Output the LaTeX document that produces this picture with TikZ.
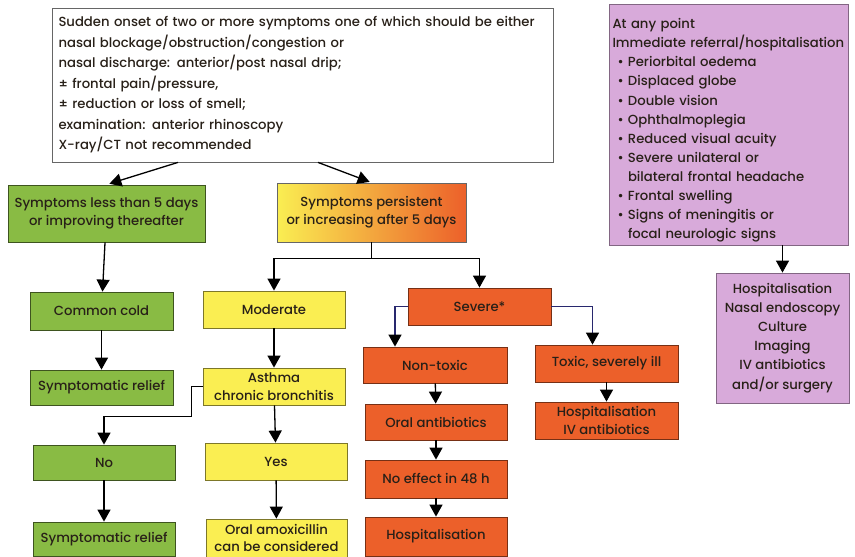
\documentclass[tikz,border=0pt]{standalone}
\usepackage{fontspec}
\setmainfont{Poppins}[UprightFont={* Medium}]
\usetikzlibrary{arrows.meta}

\definecolor{grn}{RGB}{137,187,68}
\definecolor{ylw}{RGB}{250,238,82}
\definecolor{org}{RGB}{236,96,42}
\definecolor{pur}{RGB}{216,170,218}
\definecolor{navy}{RGB}{40,40,110}
\definecolor{ink}{RGB}{40,32,24}

\newcommand{\bul}{\hspace*{5pt}\textbullet\ }
\newcommand{\cont}{\hspace*{5pt}\phantom{\textbullet\ }}

\begin{document}
\begin{tikzpicture}[x=1pt, y=-1pt, >={Triangle[width=13pt,length=12pt]}]
    \tikzstyle{box} = [rectangle, draw=black!60, line width=0.8pt, text=ink, align=center, inner sep=1pt, font=\fontsize{13.2}{17.8}\selectfont]
    \tikzstyle{grnbox} = [box, fill=grn, draw=grn!45!black]
    \tikzstyle{ylwbox} = [box, fill=ylw, draw=ylw!50!black]
    \tikzstyle{orgbox} = [box, fill=org, draw=org!50!black]
    \tikzstyle{purbox} = [box, fill=pur, draw=pur!60!black, font=\fontsize{13.2}{19.1}\selectfont]
    \tikzstyle{link} = [->, line width=1.3pt, black]

    \useasboundingbox (0,0) rectangle (855,557);

    % top
    \node[box, fill=white, minimum width=501pt, minimum height=154pt, text width=488pt, align=left, font=\fontsize{13.2}{20.5}\selectfont] (onset) at (302.5,85)
        {Sudden onset of two or more symptoms one of which should be either\\
         nasal blockage/obstruction/congestion or\\
         nasal discharge: anterior/post nasal drip;\\
         ± frontal pain/pressure,\\
         ± reduction or loss of smell;\\
         examination: anterior rhinoscopy\\
         X-ray/CT not recommended};

    % right column
    \node[purbox, minimum width=239pt, minimum height=241pt, text width=232pt, align=left] (anypoint) at (728.5,124.5)
        {\rule{0pt}{22pt}At any point\\
         Immediate referral/hospitalisation\\
         \bul Periorbital oedema\\
         \bul Displaced globe\\
         \bul Double vision\\
         \bul Ophthalmoplegia\\
         \bul Reduced visual acuity\\
         \bul Severe unilateral or\\
         \cont bilateral frontal headache\\
         \bul Frontal swelling\\
         \bul Signs of meningitis or\\
         \cont focal neurologic signs};
    \node[purbox, minimum width=133pt, minimum height=130pt] (hospall) at (782.5,338)
        {Hospitalisation\\ Nasal endoscopy\\ Culture\\ Imaging\\ IV antibiotics\\ and/or surgery};

    % second row
    \node[grnbox, minimum width=197pt, minimum height=57pt] (less5) at (106.5,213.5) {Symptoms less than 5 days\\ or improving thereafter};
    \node[box, left color=ylw, middle color=ylw!60!org, right color=org, minimum width=189pt, minimum height=59pt] (persist) at (371.5,212.5) {Symptoms persistent\\ or increasing after 5 days};

    % mild
    \node[grnbox, minimum width=143pt, minimum height=38pt] (cold) at (101.5,311) {Common cold};
    \node[grnbox, minimum width=143pt, minimum height=35pt] (relief) at (101.5,387.5) {Symptomatic relief};
    \node[grnbox, minimum width=142pt, minimum height=35pt] (no) at (104,462.5) {No};
    \node[grnbox, minimum width=142pt, minimum height=34pt] (reliefb) at (104,539) {Symptomatic relief};

    % moderate
    \node[ylwbox, minimum width=142pt, minimum height=37pt] (moderate) at (274,309.5) {Moderate};
    \node[ylwbox, minimum width=142pt, minimum height=37pt] (asthma) at (274,386.5) {Asthma\\ chronic bronchitis};
    \node[ylwbox, minimum width=142pt, minimum height=37pt] (yes) at (276,461.5) {Yes};
    \node[ylwbox, minimum width=141pt, minimum height=38pt] (amox) at (276.5,538) {Oral amoxicillin\\ can be considered};

    % severe
    \node[orgbox, minimum width=143pt, minimum height=37pt] (severe) at (479.5,306.5) {Severe*};
    \node[orgbox, minimum width=144pt, minimum height=36pt] (nontoxic) at (435,365) {Non-toxic};
    \node[orgbox, minimum width=142pt, minimum height=36pt] (oral) at (436,422) {Oral antibiotics};
    \node[orgbox, minimum width=142pt, minimum height=38pt] (noeffect) at (436,479) {No effect in 48 h};
    \node[orgbox, minimum width=142pt, minimum height=39pt] (hosp) at (436,536.5) {Hospitalisation};
    \node[orgbox, minimum width=143pt, minimum height=37pt] (toxic) at (606.5,363.5) {Toxic, severely ill};
    \node[orgbox, minimum width=143pt, minimum height=37pt] (hospiv) at (606.5,420.5) {Hospitalisation\\ IV antibiotics};

    % connectors
    \draw[link, shorten >=3pt] ([xshift=-124.5pt]onset.south) -- (less5.north);
    \draw[link, shorten >=2pt] ([xshift=15.5pt]onset.south) -- (persist.north);

    \foreach \from/\to in {less5/cold, cold/relief, moderate/asthma, asthma/yes, no/reliefb, yes/amox,
                           nontoxic/oral, oral/noeffect, noeffect/hosp, toxic/hospiv}
    \draw[link] (\from) -- (\to);

    \draw[link] (persist.south) -- ++(0,16) -| (moderate.north);
    \draw[link] (persist.south) -- ++(0,16) -| (severe.north);
    \draw[link] (asthma.west) -- ++(-11,0) -- ++(0,30) -| (no.north);
    \draw[link, navy, -{Triangle[width=13pt,length=12pt,color=black]}] (severe.west) -| ([xshift=-40pt]nontoxic.north);
    \draw[link, navy, -{Triangle[width=13pt,length=12pt,color=black]}] (severe.east) -| ([xshift=-14pt]toxic.north);
    \draw[link] (anypoint.south -| hospall.north) -- (hospall.north);
\end{tikzpicture}
\end{document}
